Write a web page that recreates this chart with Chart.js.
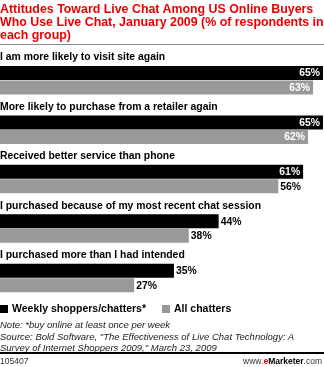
<!DOCTYPE html>
<html>
<head>
<meta charset="utf-8">
<script src="https://cdn.jsdelivr.net/npm/chart.js@4/dist/chart.umd.min.js"></script>
<style>
  html, body { margin:0; padding:0; background:#fff; }
  #wrap { position:relative; width:324px; height:367px; overflow:hidden; background:#fff; }
  #c { position:absolute; left:0; top:0; }
  .t { position:absolute; white-space:nowrap; }
  #title { left:0; top:3px; font:bold 12.4px "Liberation Sans", Arial, sans-serif; line-height:13px; color:#ee0000; }
  #rule1 { position:absolute; left:0; top:44px; width:324px; height:1px; background:#8c8c8c; }
  #legend { left:0; top:302px; font:bold 10.5px "Liberation Sans", Arial, sans-serif; color:#000; line-height:12px; }
  .sw { display:inline-block; width:8px; height:8px; vertical-align:-0.5px; margin-right:4px; }
  #note { left:0; top:319px; font:italic 9.5px "Liberation Sans", Arial, sans-serif; line-height:11.6px; color:#222; }
  #rule2 { position:absolute; left:0; top:352px; width:324px; height:2px; background:#000; }
  #code { left:0; top:356px; font:8.5px "Liberation Sans", Arial, sans-serif; color:#333; line-height:11px; }
  #brand { right:2px; top:356px; font:8.5px "Liberation Sans", Arial, sans-serif; color:#333; line-height:11px; }
</style>
</head>
<body>
<div id="wrap">
  <canvas id="c" width="324" height="367"></canvas>
  <div id="title" class="t">Attitudes Toward Live Chat Among US Online Buyers<br>Who Use Live Chat, January 2009 (% of respondents in<br>each group)</div>
  <div id="rule1"></div>
  <div id="legend" class="t"></div>
  <div id="note" class="t">Note: *buy online at least once per week<br>Source: Bold Software, "The Effectiveness of Live Chat Technology: A<br>Survey of Internet Shoppers 2009," March 23, 2009</div>
  <div id="rule2"></div>
  <div id="code" class="t">105407</div>
  <div id="brand" class="t">www.<span style="color:#e00;font-weight:bold">e</span><b style="color:#000">Marketer</b>.com</div>
</div>
<script>
const categories = [
  "I am more likely to visit site again",
  "More likely to purchase from a retailer again",
  "Received better service than phone",
  "I purchased because of my most recent chat session",
  "I purchased more than I had intended"
];
const seriesNames = ["Weekly shoppers/chatters*", "All chatters"];
const weeklyShoppers = [65, 65, 61, 44, 35];
const allChatters = [63, 62, 56, 38, 27];
const seriesColors = ["#000000", "#999999"];

// HTML legend built from series names
document.getElementById('legend').innerHTML = seriesNames.map((n, i) =>
  '<span class="sw" style="background:' + seriesColors[i] + '"></span>' + n
).join('<span style="display:inline-block;width:16px"></span>');

const labelFont = 'bold 10.4px "Liberation Sans", Arial, sans-serif';

const catLabelPlugin = {
  id: 'catLabels',
  afterDatasetsDraw(chart) {
    const ctx = chart.ctx;
    const meta0 = chart.getDatasetMeta(0);
    ctx.save();
    ctx.font = labelFont;
    ctx.fillStyle = '#000';
    ctx.textAlign = 'left';
    ctx.textBaseline = 'alphabetic';
    meta0.data.forEach((bar, i) => {
      const top = bar.y - bar.height / 2;
      ctx.fillText(chart.data.labels[i], 0, top - 5.5);
    });
    // value labels
    chart.data.datasets.forEach((ds, di) => {
      const meta = chart.getDatasetMeta(di);
      meta.data.forEach((bar, i) => {
        const txt = ds.data[i] + '%';
        ctx.textBaseline = 'middle';
        if (bar.x > 290) {
          ctx.fillStyle = '#fff';
          ctx.textAlign = 'right';
          ctx.fillText(txt, bar.x - 3, bar.y + 0.5);
        } else {
          ctx.fillStyle = '#000';
          ctx.textAlign = 'left';
          ctx.fillText(txt, bar.x + 2, bar.y + 0.5);
        }
      });
    });
    ctx.restore();
  }
};

new Chart(document.getElementById('c'), {
  type: 'bar',
  data: {
    labels: categories,
    datasets: [
      { label: seriesNames[0], data: weeklyShoppers, backgroundColor: seriesColors[0],
        categoryPercentage: 0.587, barPercentage: 0.965 },
      { label: seriesNames[1], data: allChatters, backgroundColor: seriesColors[1],
        categoryPercentage: 0.587, barPercentage: 0.965 }
    ]
  },
  options: {
    indexAxis: 'y',
    responsive: false,
    animation: false,
    devicePixelRatio: 1,
    layout: { padding: { top: 55.5, bottom: 64.3, left: 0, right: 0 } },
    scales: {
      x: { display: false, min: 0, max: 65.2 },
      y: { display: false }
    },
    plugins: {
      legend: { display: false },
      tooltip: { enabled: false },
      title: { display: false }
    }
  },
  plugins: [catLabelPlugin]
});
</script>
</body>
</html>
